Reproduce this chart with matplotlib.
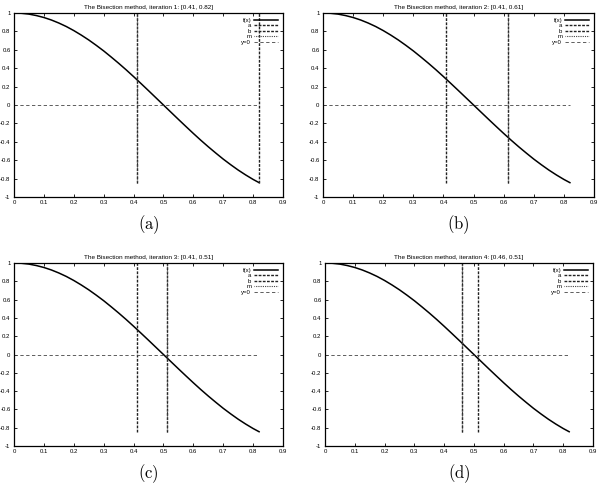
import matplotlib
matplotlib.use("Agg")
import matplotlib.pyplot as plt

plt.rcParams['font.family'] = ['Liberation Sans', 'DejaVu Sans']
plt.rcParams['mathtext.fontset'] = 'cm'

# -------------------------
# Data
# -------------------------
x_vals = [0.0, 0.025, 0.05, 0.075, 0.1, 0.125, 0.15, 0.175, 0.2, 0.225,
          0.25, 0.275, 0.3, 0.325, 0.35, 0.375, 0.4, 0.425, 0.45, 0.475,
          0.5, 0.525, 0.55, 0.575, 0.6, 0.625, 0.65, 0.675, 0.7, 0.725,
          0.75, 0.775, 0.8, 0.82]
f_vals = [1.0, 0.997, 0.988, 0.972, 0.951, 0.924, 0.891, 0.853, 0.809, 0.760,
          0.707, 0.649, 0.588, 0.522, 0.454, 0.383, 0.309, 0.233, 0.156, 0.078,
          0.0, -0.078, -0.156, -0.233, -0.309, -0.383, -0.454, -0.522, -0.588, -0.649,
          -0.707, -0.760, -0.809, -0.844]

a_vals = [0.41, 0.41, 0.41, 0.46125]
b_vals = [0.82, 0.615, 0.5125, 0.5125]
m_vals = [0.41, 0.615, 0.5125, 0.46125]
titles = ["The Bisection method, iteration 1: [0.41, 0.82]",
          "The Bisection method, iteration 2: [0.41, 0.61]",
          "The Bisection method, iteration 3: [0.41, 0.51]",
          "The Bisection method, iteration 4: [0.46, 0.51]"]
captions = ["(a)", "(b)", "(c)", "(d)"]

x_ticks = [0, 0.1, 0.2, 0.3, 0.4, 0.5, 0.6, 0.7, 0.8, 0.9]
y_ticks = [-1, -0.8, -0.6, -0.4, -0.2, 0, 0.2, 0.4, 0.6, 0.8, 1]
line_bottom = -0.85
x_end = 0.82

# -------------------------
# Layout (figure fractions)
# -------------------------
W, H = 599, 486
boxes = [(14, 13, 283, 197), (323, 13, 594, 197),
         (14, 263, 283, 446), (325, 263, 593, 446)]
caption_y = [225, 225, 474, 474]

fig = plt.figure(figsize=(W / 100, H / 100), dpi=100)

for i in range(4):
    l, t, r, b = boxes[i]
    ax = fig.add_axes([l / W, 1 - b / H, (r - l) / W, (b - t) / H])
    ax.plot(x_vals, f_vals, color="black", linewidth=1.1, label="f(x)")
    ax.plot([a_vals[i], a_vals[i]], [line_bottom, 1], color="#222222",
            linewidth=1.0, linestyle=(0, (2, 1)), label="a")
    ax.plot([b_vals[i], b_vals[i]], [line_bottom, 1], color="#222222",
            linewidth=1.0, linestyle=(0, (2, 1)), label="b")
    ax.plot([m_vals[i], m_vals[i]], [line_bottom, 1], color="#444444",
            linewidth=0.8, linestyle=(0.5, (1, 1)), label="m")
    ax.plot([0, x_end], [0, 0], color="#444444", linewidth=0.6,
            linestyle=(0, (4, 3)), label="y=0")
    ax.set_xlim(0, 0.9)
    ax.set_ylim(-1, 1)
    ax.set_xticks(x_ticks)
    ax.set_yticks(y_ticks)
    ax.set_xticklabels([f"{v:g}" for v in x_ticks])
    ax.set_yticklabels([f"{v:g}" for v in y_ticks])
    ax.tick_params(direction="in", top=True, right=True, length=2.5,
                   width=0.6, labelsize=4.3, pad=2.5)
    for sp in ax.spines.values():
        sp.set_linewidth(0.9)
    ax.set_title(titles[i], fontsize=4.6, pad=3)
    ax.legend(loc="upper right", frameon=False, markerfirst=False,
              fontsize=4.3, handlelength=4.0, handletextpad=0.5,
              labelspacing=0.05, borderaxespad=0.4)
    cx = (l + r) / 2 / W
    fig.text(cx, 1 - caption_y[i] / H, r"$\mathrm{" + captions[i] + "}$",
             ha="center", va="center", fontsize=12)

fig.savefig("out.png", dpi=100)
